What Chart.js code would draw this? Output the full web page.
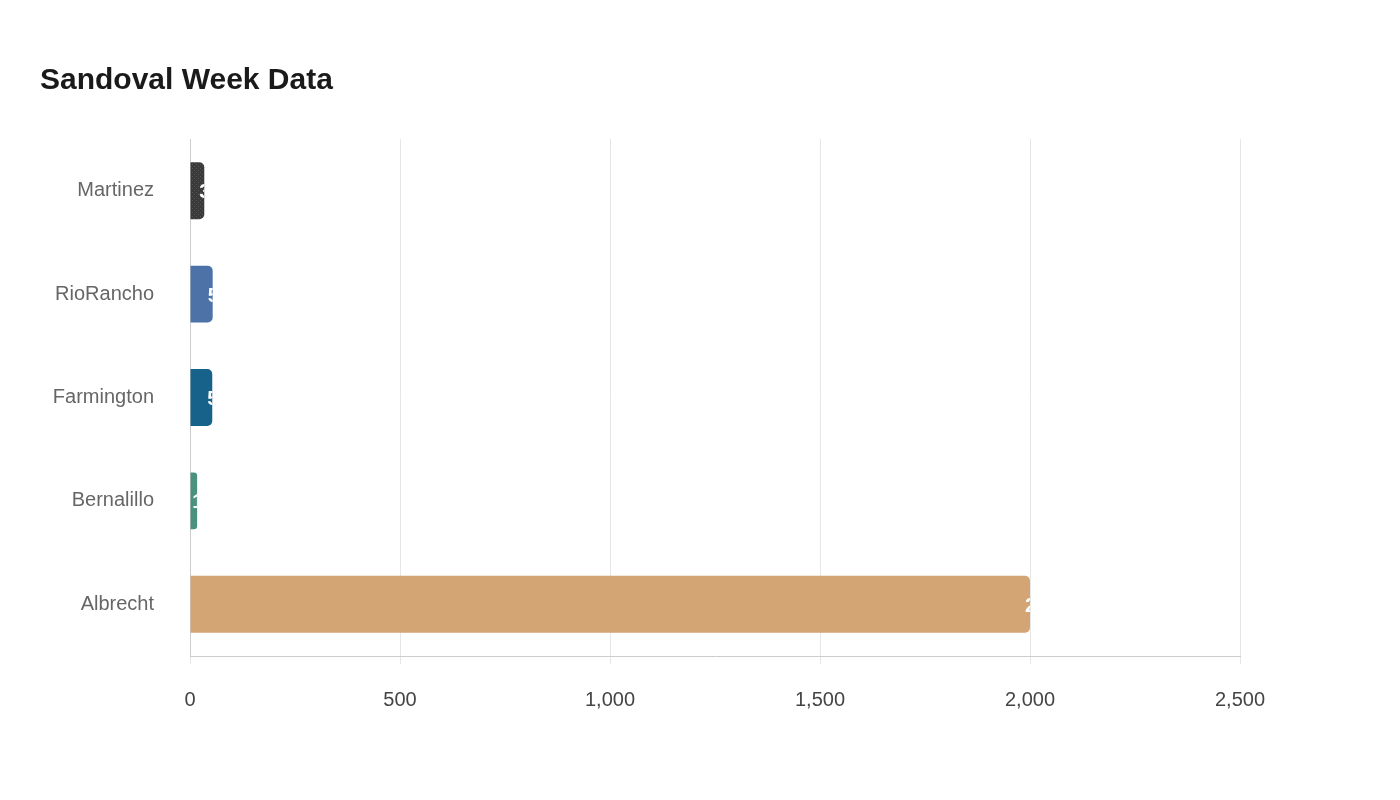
<!DOCTYPE html>
<html><head><meta charset="utf-8">
<script src="https://cdn.jsdelivr.net/npm/chart.js@4"></script>
<style>html,body{margin:0;background:#fff}#w{width:1400px;height:800px}</style>
</head><body><div id="w"><canvas id="c"></canvas></div>
<script>
const categories = ["Martinez","RioRancho","Farmington","Bernalillo","Albrecht"];
const values = [34, 54, 53, 17, 2000];
const colors = ["#3a3a3a","#4c72a8","#17628a","#4a917f","#d4a574"];

function dotPattern(){
  const p=document.createElement('canvas');p.width=4;p.height=4;
  const g=p.getContext('2d');g.fillStyle='#3a3a3a';g.fillRect(0,0,4,4);
  g.fillStyle='#555';g.fillRect(0,0,1,1);g.fillRect(2,2,1,1);
  return g.createPattern(p,'repeat');
}
const bg = colors.slice(); bg[0]=dotPattern();

const clippedLabels={id:'cl',afterDatasetsDraw(ch){
  const ctx=ch.ctx;const meta=ch.getDatasetMeta(0);
  meta.data.forEach((b,i)=>{
    const left=Math.min(b.base,b.x),right=Math.max(b.base,b.x),h=b.height;
    ctx.save();ctx.beginPath();ctx.rect(left,b.y-h/2,right-left,h);ctx.clip();
    ctx.fillStyle='#fff';ctx.font='bold 20px Liberation Sans, Arial';
    ctx.textAlign='left';ctx.textBaseline='middle';
    ctx.fillText(values[i].toLocaleString('en-US'),right-5,b.y+2);
    ctx.restore();
  });
}};

new Chart(document.getElementById('c'),{
  type:'bar',
  data:{labels:categories,datasets:[{data:values,backgroundColor:bg,borderRadius:5,borderSkipped:'start',barPercentage:0.55,categoryPercentage:1}]},
  options:{indexAxis:'y',responsive:true,maintainAspectRatio:false,animation:false,
    layout:{padding:{left:40,right:160,top:43,bottom:64}},
    plugins:{legend:{display:false},tooltip:{enabled:false},
      title:{display:true,text:'Sandoval Week Data',align:'start',color:'#1a1a1a',
        font:{family:'Liberation Sans, Arial',size:30,weight:'bold'},padding:{top:20,bottom:40}}},
    scales:{
      x:{min:0,max:2500,ticks:{stepSize:500,color:'#444',font:{family:'Liberation Sans, Arial',size:20},padding:24},
         grid:{color:'#e6e6e6',drawTicks:true,tickLength:8},border:{color:'#ccc'}},
      y:{afterFit(s){s.width=150;},ticks:{color:'#666',font:{family:'Liberation Sans, Arial',size:20},padding:28},
         grid:{display:false},border:{color:'#ccc'}}
    }}
  ,plugins:[clippedLabels]});
</script></body></html>
